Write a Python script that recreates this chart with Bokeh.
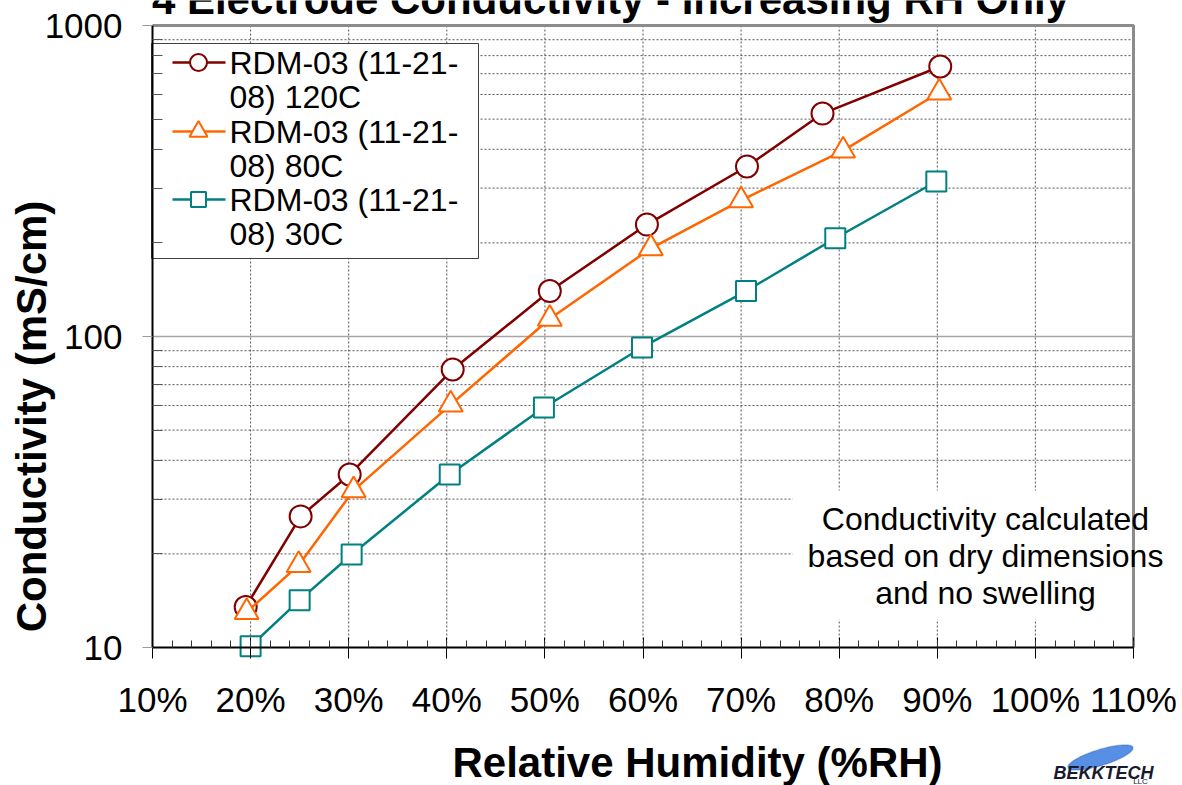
import numpy as np
from bokeh.plotting import figure
from bokeh.models import (FixedTicker, NumeralTickFormatter, PrintfTickFormatter,
                          Label, Range1d, PolyAnnotation)
from bokeh.embed import file_html
from bokeh.resources import INLINE

# ---- data -------------------------------------------------------------
rh_120 = [0.195, 0.251, 0.301, 0.406, 0.505, 0.604, 0.706, 0.783, 0.903]
cond_120 = [13.5, 26.4, 36.0, 78.3, 140, 229, 352, 521, 738]

rh_80 = [0.196, 0.249, 0.305, 0.404, 0.505, 0.608, 0.700, 0.804, 0.902]
cond_80 = [13.0, 18.4, 32.0, 60.4, 114, 192, 274, 396, 609]

rh_30 = [0.200, 0.250, 0.303, 0.403, 0.499, 0.599, 0.705, 0.796, 0.899]
cond_30 = [10.1, 14.2, 19.9, 36.0, 59.1, 92.2, 140, 207, 315]

series_labels = [["RDM-03 (11-21-", "08) 120C"],
                 ["RDM-03 (11-21-", "08) 80C"],
                 ["RDM-03 (11-21-", "08) 30C"]]

rh_ticks = [0.1, 0.2, 0.3, 0.4, 0.5, 0.6, 0.7, 0.8, 0.9, 1.0, 1.1]
rh_minor_ticks = [round(0.1 + 0.02 * i, 2) for i in range(51)]
cond_ticks = [10, 100, 1000]
cond_minor_ticks = [20, 30, 40, 50, 60, 70, 80, 90, 200, 300, 400, 500, 600, 700, 800, 900]

note_lines = ["Conductivity calculated", "based on dry dimensions", "and no swelling"]

# ---- page geometry ----------------------------------------------------
# The drawing area spans the whole page; the axes sit at fixed data
# locations so that titles and notes outside the plot box stay visible.
W, H = 1182, 785
FL, FR, FT, FB = 152, 1133, 25, 647      # plot box edges in page pixels
X0, X1 = 0.1, 1.1
Y0, Y1 = 10, 1000
FONT = "Liberation Sans"


def px_x(px):
    """page pixel column -> x data value"""
    return X0 + (px - FL) / (FR - FL) * (X1 - X0)


def px_y(py):
    """page pixel row -> y data value (log axis)"""
    lo, hi = np.log10(Y0), np.log10(Y1)
    return 10 ** (hi - (py - FT) / (FB - FT) * (hi - lo))


p = figure(width=W, height=H,
           x_range=Range1d(px_x(0), px_x(W)), y_range=Range1d(px_y(H), px_y(0)),
           y_axis_type="log", output_backend="svg", toolbar_location=None,
           min_border=0, min_border_left=0, min_border_right=0,
           min_border_top=0, min_border_bottom=0)
p.background_fill_color = "white"
p.border_fill_color = "white"
p.outline_line_color = None
p.grid.visible = False

# ---- grid lines (drawn inside the plot box only) ----------------------
grid_x = [v for v in rh_ticks if X0 < v < X1]
p.segment(x0=grid_x, y0=[Y0] * len(grid_x), x1=grid_x, y1=[Y1] * len(grid_x),
          line_color="#555555", line_dash="2 2", line_width=1)
p.segment(x0=[X0] * len(cond_minor_ticks), y0=cond_minor_ticks,
          x1=[X1] * len(cond_minor_ticks), y1=cond_minor_ticks,
          line_color="#555555", line_dash="2 2", line_width=1)
grid_y = [v for v in cond_ticks if Y0 < v < Y1]
p.segment(x0=[X0] * len(grid_y), y0=grid_y, x1=[X1] * len(grid_y), y1=grid_y,
          line_color="#a6a6a6", line_width=1.5)

# white panel behind the note in the lower right
p.quad(left=px_x(792), right=X1, top=px_y(490), bottom=px_y(619),
       fill_color="white", line_color=None)

# top and right edges of the plot box
p.line([X0, X1, X1], [Y1, Y1, Y0], line_color="#8c8c8c", line_width=3)

# ---- axes -------------------------------------------------------------
xa = p.xaxis[0]
xa.fixed_location = Y0
xa.bounds = (X0, X1)
xa.ticker = FixedTicker(ticks=rh_ticks, minor_ticks=rh_minor_ticks)
xa.formatter = NumeralTickFormatter(format="0%")
xa.major_label_text_font = FONT
xa.major_label_text_font_size = "35px"
xa.major_label_text_color = "black"
xa.major_label_standoff = 21
xa.axis_line_color = "black"
xa.axis_line_width = 2
xa.major_tick_in = 10
xa.major_tick_out = 11
xa.major_tick_line_color = "black"
xa.major_tick_line_width = 1
xa.minor_tick_in = 7
xa.minor_tick_out = 0
xa.minor_tick_line_color = "#333333"

ya = p.yaxis[0]
ya.fixed_location = X0
ya.bounds = (Y0, Y1)
ya.ticker = FixedTicker(ticks=cond_ticks, minor_ticks=cond_minor_ticks)
ya.formatter = PrintfTickFormatter(format="%d")
ya.major_label_text_font = FONT
ya.major_label_text_font_size = "35px"
ya.major_label_text_color = "black"
ya.major_label_standoff = 20
ya.axis_line_color = "black"
ya.axis_line_width = 2
ya.major_tick_in = 0
ya.major_tick_out = 10
ya.major_tick_line_color = "#999999"
ya.minor_tick_in = 10
ya.minor_tick_out = 0
ya.minor_tick_line_color = "#555555"

# ---- series -----------------------------------------------------------
C120, C80, C30 = "#800000", "#ff6600", "#008080"

p.line(rh_120, cond_120, line_color=C120, line_width=2.5)
p.scatter(rh_120, cond_120, marker="circle", size=22, fill_color="white",
          line_color=C120, line_width=2)

p.line(rh_80, cond_80, line_color=C80, line_width=2.5)
p.scatter(rh_80, cond_80, marker="triangle", size=24, fill_color="white",
          line_color=C80, line_width=2)

p.line(rh_30, cond_30, line_color=C30, line_width=2.5)
p.scatter(rh_30, cond_30, marker="square", size=20, fill_color="white",
          line_color=C30, line_width=2)

# ---- legend box -------------------------------------------------------
p.quad(left=px_x(151), right=px_x(478), top=px_y(43), bottom=px_y(258),
       fill_color="white", line_color="#404040", line_width=1)


def text_label(px, py, txt, size, **kw):
    opts = dict(text_font=FONT, text_font_size=size, text_baseline="middle",
                text_align="center", text_color="black")
    opts.update(kw)
    return Label(x=px_x(px), y=px_y(py), text=txt, **opts)


legend_rows = [62, 131, 199]
legend_style = [(C120, "circle", 17), (C80, "triangle", 18), (C30, "square", 15)]
for row, (col, mk, sz), lines in zip(legend_rows, legend_style, series_labels):
    yy = px_y(row)
    p.line([px_x(172), px_x(225)], [yy, yy], line_color=col, line_width=2.5)
    p.scatter([px_x(198)], [yy], marker=mk, size=sz, fill_color="white",
              line_color=col, line_width=2)
    for k, txt in enumerate(lines):
        p.add_layout(text_label(229, row + 34.5 * k, txt, "32px", text_align="left"))

# ---- note -------------------------------------------------------------
for k, txt in enumerate(note_lines):
    p.add_layout(text_label(985, 518 + 37 * k, txt, "32px"))

# ---- titles -----------------------------------------------------------
p.add_layout(text_label(610, -1, "4 Electrode Conductivity - Increasing RH Only", "42px",
                        text_font_style="bold"))
p.add_layout(text_label(697, 762, "Relative Humidity (%RH)", "42px",
                        text_font_style="bold"))
p.add_layout(text_label(31, 416, "Conductivity (mS/cm)", "42px",
                        text_font_style="bold", angle=np.pi / 2))

# ---- company mark -----------------------------------------------------
t = np.linspace(0, 2 * np.pi, 60)
cx, cy, a, b, rot = 1100, 757, 34, 8, -0.3
ex = cx + a * np.cos(t) * np.cos(rot) - b * np.sin(t) * np.sin(rot)
ey = cy + a * np.cos(t) * np.sin(rot) + b * np.sin(t) * np.cos(rot)
p.add_layout(PolyAnnotation(xs=[px_x(v) for v in ex], ys=[px_y(v) for v in ey],
                            fill_color="#3a7be0", fill_alpha=0.85,
                            line_color="#1c4fa8", line_width=1.5))
p.add_layout(text_label(1103, 772, "BEKKTECH", "18px",
                        text_font_style="bold italic", text_color="#1a1a2e"))
p.add_layout(text_label(1140, 781, "LLC", "8px", text_color="#1a1a2e"))

open("out.html", "w").write(file_html(p, INLINE))
